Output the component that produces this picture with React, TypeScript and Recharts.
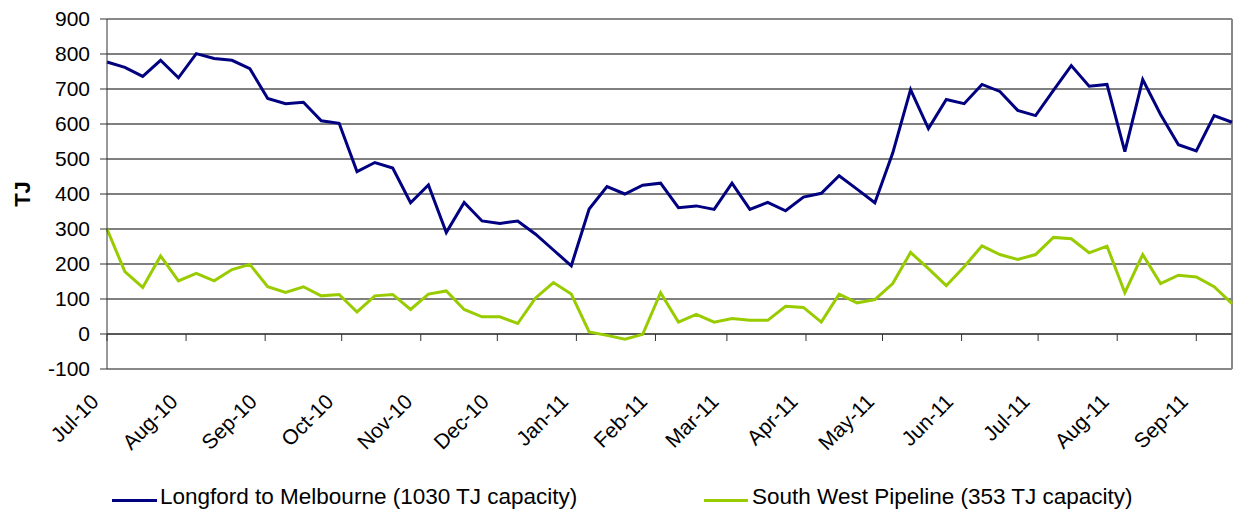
import React from 'react';
import {
  LineChart,
  Line,
  XAxis,
  YAxis,
  CartesianGrid,
  ReferenceLine,
  Legend,
  Label,
} from 'recharts';

// ---- Data ----
const firstWeek = '2010-07-01';
const lastDay = '2011-09-15';

const monthLabels = [
  'Jul-10', 'Aug-10', 'Sep-10', 'Oct-10', 'Nov-10', 'Dec-10', 'Jan-11',
  'Feb-11', 'Mar-11', 'Apr-11', 'May-11', 'Jun-11', 'Jul-11', 'Aug-11', 'Sep-11',
];
const monthStarts = [
  '2010-07-01', '2010-08-01', '2010-09-01', '2010-10-01', '2010-11-01', '2010-12-01',
  '2011-01-01', '2011-02-01', '2011-03-01', '2011-04-01', '2011-05-01', '2011-06-01',
  '2011-07-01', '2011-08-01', '2011-09-01',
];

// Weekly flows (TJ)
const longfordToMelbourne = [
  777, 762, 736, 782, 732, 801, 787, 782, 758, 673, 658, 662, 609, 602, 464, 490,
  474, 375, 426, 290, 376, 323, 316, 323, 285, 240, 195, 357, 421, 400, 425, 431,
  361, 366, 356, 431, 356, 376, 352, 391, 402, 452, 414, 375, 517, 698, 587, 670,
  658, 713, 693, 639, 624, 696, 767, 708, 713, 521, 727, 627, 541, 523, 624, 605,
];
const southWestPipeline = [
  300, 178, 133, 223, 152, 173, 152, 184, 199, 135, 119, 135, 109, 113, 63, 109,
  113, 70, 114, 123, 70, 49, 49, 30, 103, 147, 114, 6, -4, -15, -1, 118,
  34, 56, 34, 44, 39, 39, 79, 76, 34, 114, 89, 98, 144, 233, 187, 138,
  192, 252, 227, 213, 227, 276, 272, 232, 251, 118, 227, 144, 168, 163, 135, 87,
];

const seriesNames = ['Longford to Melbourne (1030 TJ capacity)', 'South West Pipeline (353 TJ capacity)'];
const seriesKeys = ['longford', 'southWest'];
const seriesColors = ['#000080', '#99CC00'];

const yTicks = [-100, 0, 100, 200, 300, 400, 500, 600, 700, 800, 900];

// ---- Derived ----
const DAY = 86400000;
const origin = Date.parse(firstWeek);
const dayOf = (d: string) => Math.round((Date.parse(d) - origin) / DAY);
const monthTickDays = monthStarts.map(dayOf);
const domainEnd = dayOf(lastDay);

const data = longfordToMelbourne.map((v, i) => ({
  day: i * 7,
  longford: v,
  southWest: southWestPipeline[i],
}));

const FONT = '"Liberation Sans", Arial, sans-serif';

const XTick = (props: any) => {
  const { x, y, payload } = props;
  const idx = monthTickDays.indexOf(payload.value);
  return (
    <text
      x={0}
      y={0}
      transform={`translate(${x - 7},${y + 34}) rotate(-45)`}
      textAnchor="end"
      fontSize={21}
      fontFamily={FONT}
      fill="#000"
    >
      {monthLabels[idx]}
    </text>
  );
};

const legendLayout = [
  { lineLeft: 112, lineWidth: 45, textLeft: 160 },
  { lineLeft: 704, lineWidth: 44, textLeft: 752 },
];

const renderLegend = () => (
  <div style={{ position: 'relative', width: 1234, height: 31, fontFamily: FONT, fontSize: 22.5, color: '#000' }}>
    {seriesNames.map((name, i) => (
      <React.Fragment key={name}>
        <span
          style={{
            position: 'absolute',
            left: legendLayout[i].lineLeft,
            top: 19,
            width: legendLayout[i].lineWidth,
            height: 3,
            background: seriesColors[i],
          }}
        />
        <span
          style={{
            position: 'absolute',
            left: legendLayout[i].textLeft,
            top: 5,
            lineHeight: '24px',
            whiteSpace: 'nowrap',
          }}
        >
          {name}
        </span>
      </React.Fragment>
    ))}
  </div>
);

export default function App() {
  return (
    <div style={{ position: 'absolute', left: 0, top: 0, width: 1234, height: 511, background: '#fff' }}>
      <LineChart
        width={1234}
        height={511}
        data={data}
        margin={{ top: 19, right: 2, bottom: 0, left: 0 }}
      >
        <CartesianGrid vertical={false} stroke="#000" strokeWidth={1} />
        <XAxis
          dataKey="day"
          type="number"
          domain={[0, domainEnd]}
          ticks={monthTickDays}
          interval={0}
          axisLine={false}
          tickLine={false}
          tickSize={0}
          tickMargin={0}
          height={111}
          tick={<XTick />}
        />
        <YAxis
          type="number"
          domain={[-100, 900]}
          ticks={yTicks}
          interval={0}
          width={107}
          tickSize={7}
          tickMargin={10}
          axisLine={{ stroke: '#333' }}
          tickLine={{ stroke: '#333' }}
          tick={{ fontSize: 21, fontFamily: FONT, fill: '#000' }}
        >
          <Label
            content={(p: any) => {
              const vb = p.viewBox || { x: 0, y: 19, width: 107, height: 350 };
              const cx = vb.x + 22;
              const cy = vb.y + vb.height / 2;
              return (
                <text
                  x={cx}
                  y={cy}
                  transform={`rotate(-90 ${cx} ${cy})`}
                  textAnchor="middle"
                  dominantBaseline="central"
                  fontWeight="bold"
                  fontSize={22}
                  fontFamily={FONT}
                  fill="#000"
                >
                  TJ
                </text>
              );
            }}
          />
        </YAxis>
        <ReferenceLine y={900} stroke="#888" strokeWidth={2} />
        <ReferenceLine y={-100} stroke="#888" strokeWidth={2} />
        <ReferenceLine x={domainEnd} stroke="#888" strokeWidth={2} />
        <ReferenceLine y={0} stroke="#333" strokeWidth={1} />
        {monthTickDays.map((d) => (
          <ReferenceLine
            key={d}
            segment={[{ x: d, y: 0 }, { x: d, y: -20 }]}
            stroke="#333"
            strokeWidth={1}
          />
        ))}
        {seriesKeys.map((k, i) => (
          <Line
            key={k}
            type="linear"
            dataKey={k}
            name={seriesNames[i]}
            stroke={seriesColors[i]}
            strokeWidth={3}
            dot={false}
            activeDot={false}
            isAnimationActive={false}
          />
        ))}
        <Legend
          verticalAlign="bottom"
          content={renderLegend}
          wrapperStyle={{ left: 0, bottom: 0, width: 1234, height: 31 }}
        />
      </LineChart>
    </div>
  );
}
